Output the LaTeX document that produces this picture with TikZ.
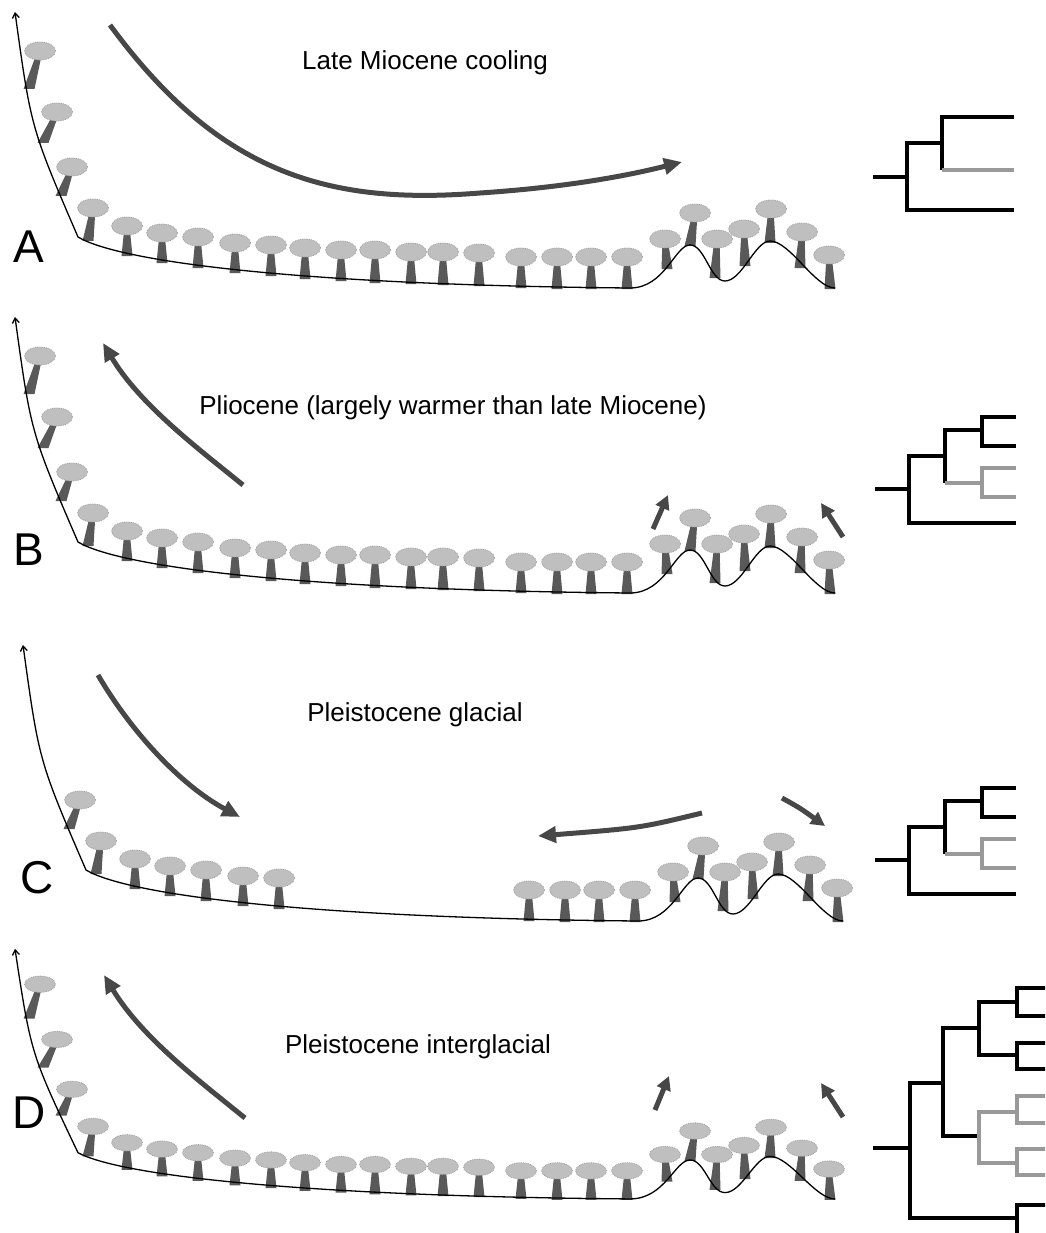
\documentclass[tikz,border=0pt]{standalone}
\usepackage{fontspec}
\setmainfont{Liberation Sans}
\usetikzlibrary{arrows.meta}

\tikzset{
  ground/.style={line width=1.3pt, black},
  trunk/.style={fill=black!65},
  crown/.style={fill=gray!50, draw=black!38, densely dotted, line width=0.8pt},
  drift/.style={draw=black!72, line width=5pt, -{Triangle[length=18pt,width=16pt]}},
  nudge/.style={draw=black!72, line width=5pt, -{Triangle[length=14pt,width=14pt]}},
  clade/.style={line width=3.2pt, black},
  gclade/.style={line width=3.2pt, black!40},
  epoch/.style={font=\fontsize{26}{30}\selectfont},
  panel/.style={font=\fontsize{46}{50}\selectfont},
}

\newcommand{\drawtree}[4]{%
  \fill[trunk] (#1-2.5,#2) -- (#1+2.5,#2) -- (#3+5.5,#4+1) -- (#3-5.5,#4+1) -- cycle;
  \draw[crown] (#1,#2) ellipse (15.5pt and 9pt);}
\newcommand{\grove}[1]{\foreach \cx/\cy/\bx/\by in #1 {\drawtree{\cx}{\cy}{\bx}{\by}}}

\newcommand{\slopetrees}{40/51/29/88, 57/112/43/142}
\newcommand{\lefttrees}{72/167/61/195, 93/208/88/240, 127/226/127/255, 162/233/162/262, 198/237/198/267, 235/243/235/272, 271/245/271/275}
\newcommand{\midtrees}{305/248/305/278, 341/250/341/280, 375/250/375/282, 411/252/411/283, 443/252/443/284, 479/253/479/285}
\newcommand{\righttrees}{521/257/521/287, 557/257/557/288, 591/257/591/288, 627/257/627/288, 665/239/667/268, 695/213/690/245, 717/239/715/277, 744/229/745/265, 771/209/770/242, 802/232/800/267, 829/255/830/288}

\newcommand{\valley}{%
  \draw[ground, {Straight Barb[length=5pt,width=7pt]}-] (15,12) .. controls (31,128) .. (78,237)
    .. controls (120,262) and (300,285) .. (630,288)
    .. controls (665,288) and (675,245) .. (690,245)
    .. controls (705,245) and (710,281) .. (725,281)
    .. controls (742,281) and (755,241) .. (770,241)
    .. controls (790,241) and (815,288) .. (835,288);}
\newcommand{\fullvalley}{\grove{\slopetrees}\grove{\lefttrees}\grove{\midtrees}\grove{\righttrees}\valley}

\begin{document}
\begin{tikzpicture}[x=1pt, y=-1pt]
  \useasboundingbox (0,0) rectangle (1045,1233);
  \clip (0,0) rectangle (1045,1233);

  \begin{scope}
    \fullvalley
  \end{scope}
  \begin{scope}[shift={(0,305)}]
    \fullvalley
  \end{scope}
  \begin{scope}[shift={(8,633)}]
    \grove{\lefttrees}\grove{\righttrees}\valley
  \end{scope}
  \begin{scope}[shift={(0,938)}, yscale=0.906]
    \fullvalley
  \end{scope}

  \node[panel] (A) at (29,247) {A};
  \node[panel] (B) at (29,550) {B};
  \node[panel] (C) at (37,878) {C};
  \node[panel] (D) at (29,1113) {D};

  \node[epoch] (e1) at (425,63) {Late Miocene cooling};
  \node[epoch] (e2) at (453,408) {Pliocene (largely warmer than late Miocene)};
  \node[epoch] (e3) at (415,715) {Pleistocene glacial};
  \node[epoch] (e4) at (418,1047) {Pleistocene interglacial};

  \draw[drift] (110,25) .. controls (220,175) and (330,205) .. (480,193) .. controls (570,187) and (630,175) .. (682,162);
  \draw[drift] (243,485) .. controls (200,450) and (140,405) .. (103,343);
  \draw[nudge] (653,529) -- (668,495);
  \draw[nudge] (843,537) -- (821,503);
  \draw[drift] (98,675) .. controls (130,730) and (180,785) .. (240,817);
  \draw[drift] (702,813) .. controls (640,828) .. (538,836);
  \draw[nudge] (782,798) .. controls (800,808) .. (825,826);
  \draw[drift] (245,1118) .. controls (202,1083) and (142,1038) .. (104,975);
  \draw[nudge] (655,1110) -- (669,1076);
  \draw[nudge] (843,1117) -- (821,1083);

  \coordinate (a0) at (873,177);
  \coordinate (a1) at (907,177);
  \coordinate (a2) at (942,143);
  \coordinate (a3) at (1014,117);
  \coordinate (a4) at (1014,170);
  \coordinate (a5) at (1014,210);
  \draw[clade] (a0) -- (a1) |- (a2) |- (a3);
  \draw[clade] (a1) |- (a5);
  \draw[clade] (a2) -- (a2 |- a4);
  \draw[gclade] (a2 |- a4) -- (a4);

  \coordinate (b0) at (875,489);
  \coordinate (b1) at (909,489);
  \coordinate (b2) at (945,456);
  \coordinate (b3) at (982,430);
  \coordinate (b4) at (1016,417);
  \coordinate (b5) at (1016,446);
  \coordinate (b6) at (982,483);
  \coordinate (b7) at (1016,468);
  \coordinate (b8) at (1016,497);
  \coordinate (b9) at (1016,523);
  \draw[clade] (b0) -- (b1) |- (b2) |- (b3) |- (b4);
  \draw[clade] (b3) |- (b5);
  \draw[clade] (b2) -- (b2 |- b6);
  \draw[gclade] (b2 |- b6) -- (b6) |- (b7);
  \draw[gclade] (b6) |- (b8);
  \draw[clade] (b1) |- (b9);

  \coordinate (c0) at (875,860);
  \coordinate (c1) at (909,860);
  \coordinate (c2) at (945,827);
  \coordinate (c3) at (982,801);
  \coordinate (c4) at (1016,788);
  \coordinate (c5) at (1016,817);
  \coordinate (c6) at (982,854);
  \coordinate (c7) at (1016,839);
  \coordinate (c8) at (1016,868);
  \coordinate (c9) at (1016,894);
  \draw[clade] (c0) -- (c1) |- (c2) |- (c3) |- (c4);
  \draw[clade] (c3) |- (c5);
  \draw[clade] (c2) -- (c2 |- c6);
  \draw[gclade] (c2 |- c6) -- (c6) |- (c7);
  \draw[gclade] (c6) |- (c8);
  \draw[clade] (c1) |- (c9);

  \coordinate (d0) at (873,1148);
  \coordinate (d1) at (910,1148);
  \coordinate (d2) at (943,1083);
  \coordinate (d3) at (979,1028);
  \coordinate (d4) at (1017,1002);
  \coordinate (d5) at (1050,988);
  \coordinate (d6) at (1050,1016);
  \coordinate (d7) at (1017,1055);
  \coordinate (d8) at (1050,1043);
  \coordinate (d9) at (1050,1069);
  \coordinate (d10) at (979,1136);
  \coordinate (d11) at (1017,1112);
  \coordinate (d12) at (1050,1096);
  \coordinate (d13) at (1050,1123);
  \coordinate (d14) at (1017,1163);
  \coordinate (d15) at (1050,1149);
  \coordinate (d16) at (1050,1175);
  \coordinate (d17) at (1017,1218);
  \coordinate (d18) at (1050,1205);
  \coordinate (d19) at (1050,1240);
  \draw[clade] (d0) -- (d1) |- (d2) |- (d3) |- (d4) |- (d5);
  \draw[clade] (d4) |- (d6);
  \draw[clade] (d3) |- (d7) |- (d8);
  \draw[clade] (d7) |- (d9);
  \draw[clade] (d2) |- (d10);
  \draw[gclade] (d10) |- (d11) |- (d12);
  \draw[gclade] (d11) |- (d13);
  \draw[gclade] (d10) |- (d14) |- (d15);
  \draw[gclade] (d14) |- (d16);
  \draw[clade] (d1) |- (d17) |- (d18);
  \draw[clade] (d17) |- (d19);
\end{tikzpicture}
\end{document}
